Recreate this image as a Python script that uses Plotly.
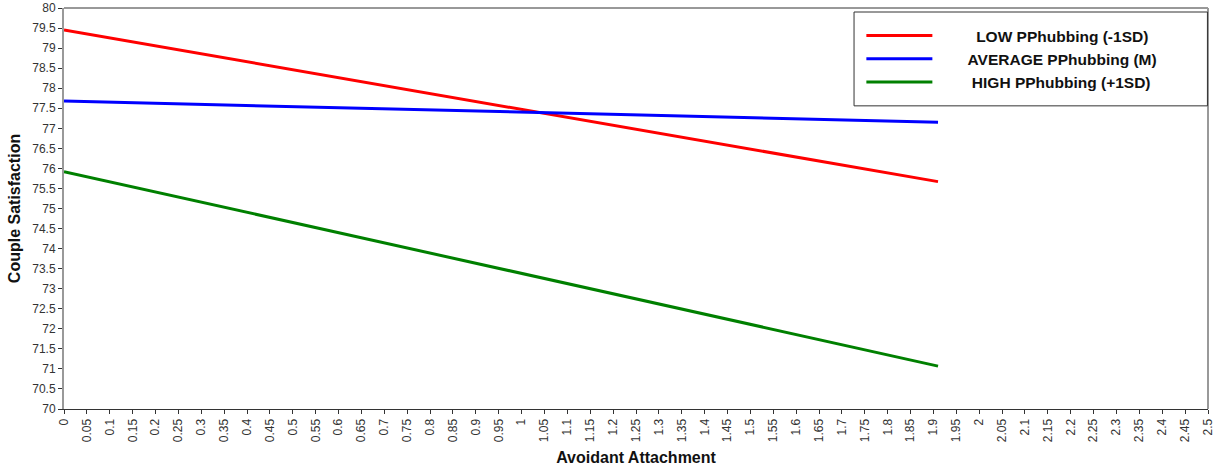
import plotly.graph_objects as go

x_vals = [0, 1.91]
low_vals = [79.45, 75.67]
avg_vals = [77.68, 77.15]
high_vals = [75.92, 71.07]
series_names = ["LOW PPhubbing (-1SD)", "AVERAGE PPhubbing (M)", "HIGH PPhubbing (+1SD)"]
series_colors = ["#ff0000", "#0000ff", "#008000"]
legend_pad = [9, 7, 8]  # non-breaking spaces to centre legend text like the reference

x_ticks = [round(i * 0.05, 2) for i in range(51)]
x_ticklabels = [("%g" % v) for v in x_ticks]
y_ticks = [70 + i * 0.5 for i in range(21)]
y_ticklabels = [("%g" % v) for v in y_ticks]

fig = go.Figure()
for i, (name, ys, col, pad) in enumerate(zip(series_names, [low_vals, avg_vals, high_vals],
                                             series_colors, legend_pad)):
    fig.add_trace(go.Scatter(x=x_vals, y=ys, mode="lines",
                             name="\u00a0" * pad + "<b>" + name + "</b>",
                             legendgroup="g%d" % i,
                             line=dict(color=col, width=3)))

fig.update_layout(
    width=1215, height=469,
    margin=dict(l=64, r=7, t=8, b=60),
    plot_bgcolor="white", paper_bgcolor="white",
    font=dict(family="Liberation Sans, Arial", color="#333333"),
    showlegend=True,
    legend=dict(x=0.697, y=0.9725, xanchor="left", yanchor="top",
                borderwidth=0, bgcolor="rgba(0,0,0,0)",
                font=dict(size=15.5, color="#111111", family="Liberation Sans, Arial"),
                itemwidth=66, tracegroupgap=0),
    xaxis=dict(range=[0, 2.5], tickvals=x_ticks, ticktext=x_ticklabels,
               tickangle=-90, ticks="outside", ticklen=4, tickcolor="#333333",
               showgrid=False, zeroline=False, showline=True, linecolor="#333333",
               automargin=False, tickfont=dict(size=12, color="#333333"),
               title=dict(text="<b>Avoidant Attachment</b>", font=dict(size=16, color="#111111"), standoff=10)),
    yaxis=dict(range=[70, 80], tickvals=y_ticks, ticktext=y_ticklabels,
               ticks="outside", ticklen=4, tickcolor="#333333",
               showgrid=False, zeroline=False, showline=True, linecolor="#999999", linewidth=2,
               automargin=False, tickfont=dict(size=12, color="#333333"),
               title=dict(text="<b>Couple Satisfaction</b>", font=dict(size=16, color="#111111"), standoff=8)),
)
# top and right borders
fig.add_shape(type="line", xref="paper", yref="paper", x0=0, x1=1, y0=1, y1=1,
              line=dict(color="#333333", width=1))
fig.add_shape(type="line", xref="paper", yref="paper", x0=1, x1=1, y0=0, y1=1,
              line=dict(color="#999999", width=2))
# legend frame
fig.add_shape(type="rect", xref="paper", yref="paper", x0=0.6906, x1=0.9995, y0=0.756, y1=0.990,
              line=dict(color="#333333", width=1), fillcolor="rgba(0,0,0,0)")

fig.write_html("out.html", config={"displayModeBar": False},
               post_script="document.body.style.margin='0';")
